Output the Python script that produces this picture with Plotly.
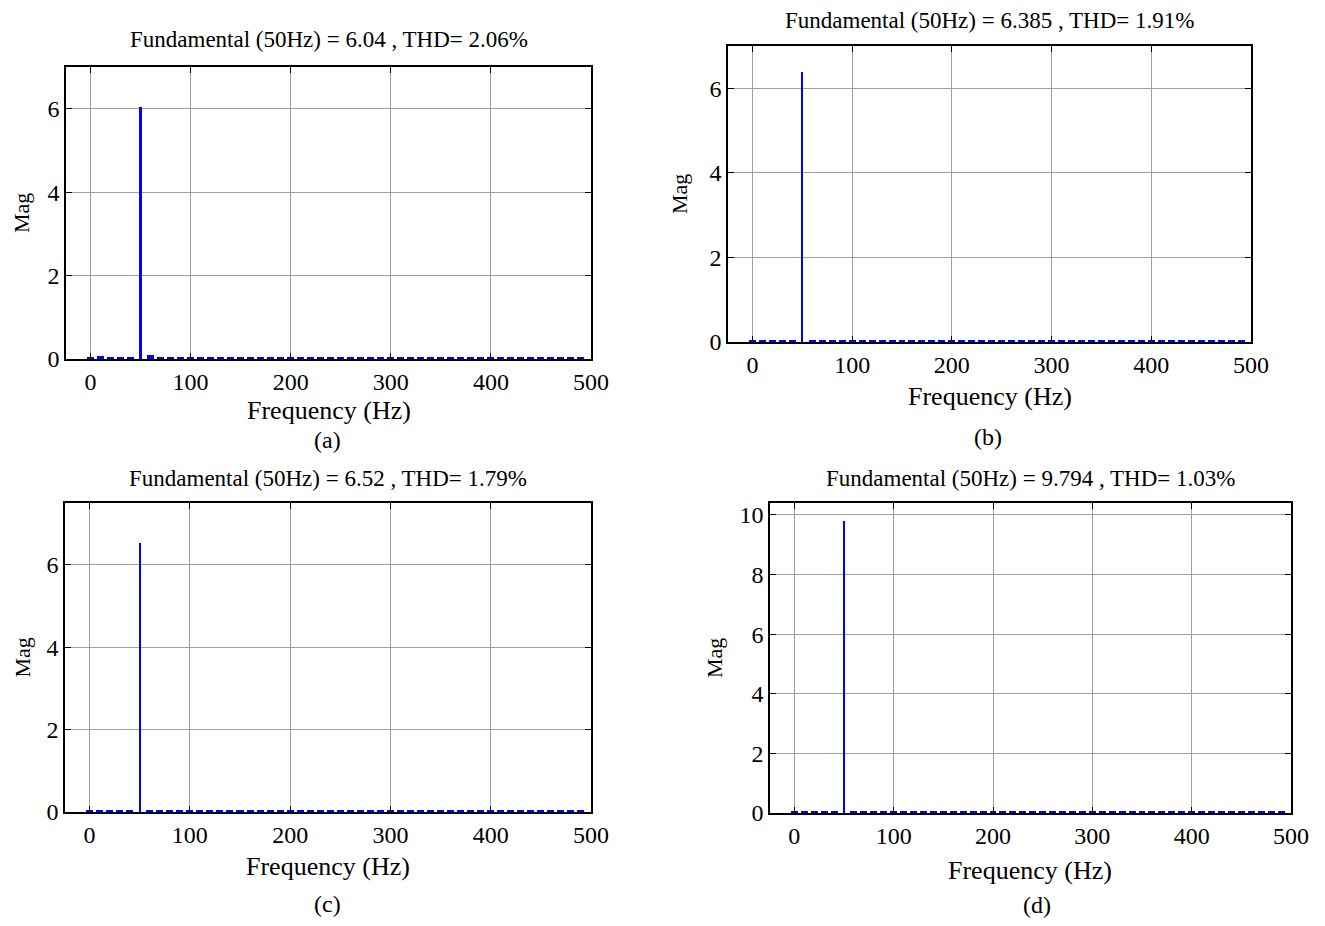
import plotly.graph_objects as go

# ---------------- data ----------------
freqs = [0, 10, 20, 30, 40, 50, 60, 70, 80, 90,
         100, 110, 120, 130, 140, 150, 160, 170, 180, 190,
         200, 210, 220, 230, 240, 250, 260, 270, 280, 290,
         300, 310, 320, 330, 340, 350, 360, 370, 380, 390,
         400, 410, 420, 430, 440, 450, 460, 470, 480, 490]

mag_a = [0.04, 0.08, 0.04, 0.04, 0.05, 6.04, 0.09, 0.04, 0.04, 0.04,
         0.04, 0.04, 0.04, 0.04, 0.04, 0.04, 0.04, 0.04, 0.04, 0.04,
         0.04, 0.04, 0.04, 0.04, 0.04, 0.04, 0.04, 0.04, 0.04, 0.04,
         0.04, 0.04, 0.04, 0.04, 0.04, 0.04, 0.04, 0.04, 0.04, 0.04,
         0.04, 0.04, 0.04, 0.04, 0.04, 0.04, 0.04, 0.04, 0.04, 0.04]
mag_b = [0.04, 0.04, 0.04, 0.04, 0.04, 6.385, 0.04, 0.04, 0.04, 0.04,
         0.04, 0.04, 0.04, 0.04, 0.04, 0.04, 0.04, 0.04, 0.04, 0.04,
         0.04, 0.04, 0.04, 0.04, 0.04, 0.04, 0.04, 0.04, 0.04, 0.04,
         0.04, 0.04, 0.04, 0.04, 0.04, 0.04, 0.04, 0.04, 0.04, 0.04,
         0.04, 0.04, 0.04, 0.04, 0.04, 0.04, 0.04, 0.04, 0.04, 0.04]
mag_c = [0.04, 0.04, 0.04, 0.04, 0.06, 6.52, 0.05, 0.04, 0.04, 0.04,
         0.04, 0.04, 0.04, 0.04, 0.04, 0.04, 0.04, 0.04, 0.04, 0.04,
         0.04, 0.04, 0.04, 0.04, 0.04, 0.04, 0.04, 0.04, 0.04, 0.04,
         0.04, 0.04, 0.04, 0.04, 0.04, 0.04, 0.04, 0.04, 0.04, 0.04,
         0.04, 0.04, 0.04, 0.04, 0.04, 0.04, 0.04, 0.04, 0.04, 0.04]
mag_d = [0.05, 0.05, 0.05, 0.05, 0.05, 9.794, 0.05, 0.05, 0.05, 0.05,
         0.05, 0.05, 0.05, 0.05, 0.05, 0.05, 0.05, 0.05, 0.05, 0.05,
         0.05, 0.05, 0.05, 0.05, 0.05, 0.05, 0.05, 0.05, 0.05, 0.05,
         0.05, 0.05, 0.05, 0.05, 0.05, 0.05, 0.05, 0.05, 0.05, 0.05,
         0.05, 0.05, 0.05, 0.05, 0.05, 0.05, 0.05, 0.05, 0.05, 0.05]

titles = ["Fundamental (50Hz) = 6.04 , THD= 2.06%",
          "Fundamental (50Hz) = 6.385 , THD= 1.91%",
          "Fundamental (50Hz) = 6.52 , THD= 1.79%",
          "Fundamental (50Hz) = 9.794 , THD= 1.03%"]
labels = ["(a)", "(b)", "(c)", "(d)"]
x_ticks = [0, 100, 200, 300, 400, 500]
y_ranges = [[0, 7], [0, 7], [0, 7.5], [0, 10.4]]

# ---------------- layout geometry (screen pixels) ----------------
OFF = 8                      # default page body margin
W, H = 1325 - 2 * OFF, 926 - 2 * OFF


def px(x):
    return (x - OFF) / W


def py(y):
    return 1 - (y - OFF) / H


# (left, right, top, bottom) plot-area pixel boxes
boxes = [(66, 591, 67, 359), (728, 1251, 46, 342),
         (65, 591, 503, 812), (770, 1291, 503, 813)]
title_y = [40, 21, 478, 478]
xtitle_y = [410, 396, 866, 870]
panel_lab_y = [440, 437, 904, 905]
panel_lab_x = [327, 988, 327, 1037]
ytitle_x = [22, 680, 22, 714]

FONT = "Liberation Serif, Times New Roman, serif"

fig = go.Figure()
series = [mag_a, mag_b, mag_c, mag_d]
annotations = []
for i, mags in enumerate(series):
    ax = "" if i == 0 else str(i + 1)
    widths = [2.4 if m > 1 else 7 for m in mags]
    fig.add_trace(go.Bar(x=freqs, y=mags, width=widths,
                         marker=dict(color="#0000ff", line=dict(width=0)),
                         xaxis="x" + ax, yaxis="y" + ax, showlegend=False))
    l, r, t, b = boxes[i]
    axis_common = dict(showline=True, linecolor="black", linewidth=1.5,
                       mirror="ticks", ticks="inside", ticklen=6,
                       tickcolor="black", showgrid=True, gridcolor="#a0a0a0",
                       gridwidth=1, zeroline=False, automargin=False,
                       tickfont=dict(family=FONT, size=24, color="black"))
    fig.layout["xaxis" + ax] = dict(domain=[px(l), px(r)], range=[-24.5, 500],
                                    tickvals=x_ticks, anchor="y" + ax,
                                    **axis_common)
    fig.layout["yaxis" + ax] = dict(domain=[py(b), py(t)],
                                    range=y_ranges[i], dtick=2,
                                    anchor="x" + ax, **axis_common)
    cx = (l + r) / 2
    annotations.append(dict(text=titles[i], x=px(cx), y=py(title_y[i]),
                            xref="paper", yref="paper", showarrow=False,
                            xanchor="center", yanchor="middle", borderpad=0,
                            font=dict(family=FONT, size=23, color="black")))
    annotations.append(dict(text="Frequency (Hz)", x=px(cx),
                            y=py(xtitle_y[i]), xref="paper", yref="paper",
                            showarrow=False, xanchor="center", yanchor="middle",
                            font=dict(family=FONT, size=26, color="black")))
    annotations.append(dict(text=labels[i], x=px(panel_lab_x[i]),
                            y=py(panel_lab_y[i]), xref="paper",
                            yref="paper", showarrow=False, xanchor="center",
                            yanchor="middle", borderpad=0,
                            font=dict(family=FONT, size=24, color="black")))
    annotations.append(dict(text="Mag", x=px(ytitle_x[i]),
                            y=py((t + b) / 2), xref="paper", yref="paper",
                            showarrow=False, textangle=-90, xanchor="center",
                            yanchor="middle", borderpad=0,
                            font=dict(family=FONT, size=22, color="black")))

fig.update_layout(width=W, height=H, margin=dict(l=0, r=0, t=0, b=0),
                  paper_bgcolor="white", plot_bgcolor="white",
                  bargap=0, annotations=annotations)

fig.write_html("out.html")
